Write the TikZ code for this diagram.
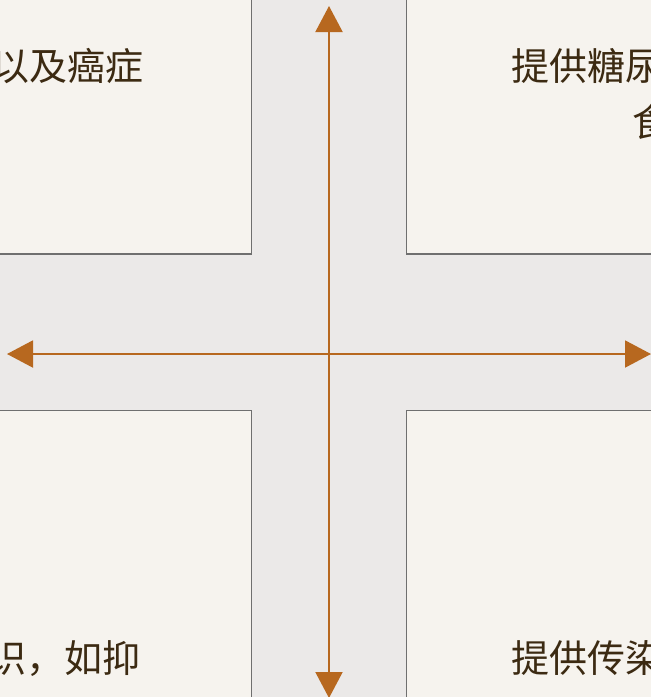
\documentclass[tikz,border=0pt]{standalone}
\usepackage{fontspec}
\newfontfamily\cjk{Noto Sans CJK SC}
\usetikzlibrary{arrows.meta}
\definecolor{bggray}{HTML}{EBE9E8}
\definecolor{panelfill}{HTML}{F6F3EE}
\definecolor{panelline}{HTML}{6F6F6F}
\definecolor{arrowcol}{HTML}{B7681F}
\definecolor{textcol}{HTML}{3C2A12}
\tikzset{
  panel/.style={fill=panelfill, draw=panelline, line width=1.4pt},
  axis/.style={draw=arrowcol, line width=2pt, -{Triangle[length=26pt,width=27pt]}},
  lbl/.style={inner sep=0pt, text=textcol, font=\cjk\fontsize{38pt}{56pt}\selectfont, anchor=base west}
}
\begin{document}
\begin{tikzpicture}[x=1pt,y=-1pt]
\useasboundingbox (0,0) rectangle (651,697);
\clip (0,0) rectangle (651,697);
\fill[bggray] (-5,-5) rectangle (656,702);
% panels
\draw[panel] (-10,-10) rectangle (251.5,254);
\draw[panel] (406.5,-10) rectangle (700,254);
\draw[panel] (-10,410.5) rectangle (251.5,720);
\draw[panel] (406.5,410.5) rectangle (700,720);
% texts
\node[lbl] (tl) at (-9,80) {以及癌症};
\node[lbl] (tr1) at (511,80) {提供糖尿};
\node[lbl] (tr2) at (632,136) {食};
\node[lbl] (bl) at (-12,672) {识，如抑};
\node[lbl] (br) at (511,672) {提供传染};
% axes
\coordinate (c) at (329,354);
\coordinate (up) at (329,6);
\coordinate (down) at (329,698);
\coordinate (left) at (7,354);
\coordinate (right) at (651,354);
\draw[axis] (c) -- (up);
\draw[axis] (c) -- (down);
\draw[axis] (c) -- (left);
\draw[axis] (c) -- (right);
\end{tikzpicture}
\end{document}
